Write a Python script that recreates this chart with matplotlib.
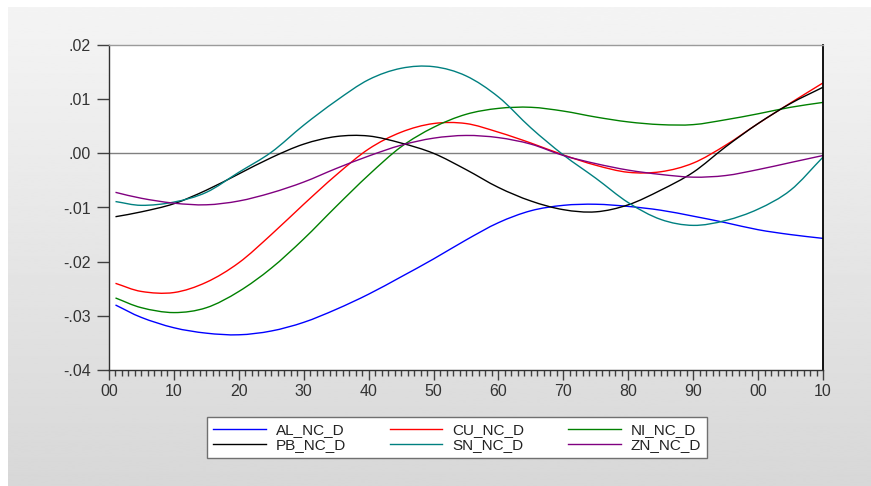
import numpy as np
import matplotlib
matplotlib.use("Agg")
import matplotlib.pyplot as plt
from matplotlib.ticker import MultipleLocator
from matplotlib.path import Path
from matplotlib.patches import PathPatch
from matplotlib.lines import Line2D

years = [1901, 1905, 1910, 1915, 1920, 1925, 1930, 1935, 1940, 1945, 1950, 1955,
         1960, 1965, 1970, 1975, 1980, 1985, 1990, 1995, 2000, 2005, 2010]

al_nc_d = [-0.028, -0.0303, -0.0322, -0.0332, -0.0335, -0.0328, -0.0312, -0.0288, -0.026,
           -0.0228, -0.0195, -0.016, -0.0128, -0.0106, -0.0096, -0.0094, -0.0098, -0.0105,
           -0.0116, -0.0128, -0.0141, -0.015, -0.0157]
cu_nc_d = [-0.024, -0.0255, -0.0257, -0.0238, -0.0202, -0.015, -0.0094, -0.004, 0.0008,
           0.0039, 0.0055, 0.0055, 0.0039, 0.0019, -0.0003, -0.0022, -0.0035, -0.0034,
           -0.0018, 0.0015, 0.0055, 0.0093, 0.013]
ni_nc_d = [-0.0267, -0.0285, -0.0294, -0.0285, -0.0255, -0.0212, -0.0158, -0.0098, -0.004,
           0.0012, 0.0048, 0.0072, 0.0083, 0.0085, 0.0078, 0.0067, 0.0058, 0.0053,
           0.0053, 0.0062, 0.0073, 0.0085, 0.0094]
pb_nc_d = [-0.0117, -0.0108, -0.0093, -0.0068, -0.0038, -0.0008, 0.0017, 0.0031, 0.0032,
           0.0019, 0.0, -0.003, -0.0063, -0.0088, -0.0104, -0.0108, -0.0095, -0.0068,
           -0.0035, 0.0012, 0.0055, 0.0092, 0.0122]
sn_nc_d = [-0.0089, -0.0096, -0.009, -0.0072, -0.0035, 0.0002, 0.0052, 0.0097, 0.0136,
           0.0157, 0.016, 0.0143, 0.0104, 0.0047, -0.0003, -0.0046, -0.0091, -0.0122,
           -0.0133, -0.0124, -0.0103, -0.0068, -0.0007]
zn_nc_d = [-0.0072, -0.0083, -0.0092, -0.0095, -0.0088, -0.0073, -0.0053, -0.0028, -0.0005,
           0.0015, 0.0028, 0.0033, 0.0029, 0.0017, -0.0004, -0.0019, -0.0031, -0.0039,
           -0.0044, -0.0041, -0.003, -0.0017, -0.0004]

series_names = ["AL_NC_D", "CU_NC_D", "NI_NC_D", "PB_NC_D", "SN_NC_D", "ZN_NC_D"]
series_values = [al_nc_d, cu_nc_d, ni_nc_d, pb_nc_d, sn_nc_d, zn_nc_d]
series_colors = ["#0000ff", "#ff0000", "#008000", "#000000", "#008080", "#800080"]

x_ticks = list(range(1900, 2011, 10))
x_tick_labels = ["00", "10", "20", "30", "40", "50", "60", "70", "80", "90", "00", "10"]
y_ticks = [-0.04, -0.03, -0.02, -0.01, 0.0, 0.01, 0.02]
y_tick_labels = ["-.04", "-.03", "-.02", "-.01", ".00", ".01", ".02"]

plt.rcParams['font.family'] = ['Liberation Sans', 'DejaVu Sans']


def smooth_path(xs, ys):
    """Catmull-Rom curve through the data points, as cubic Bezier path."""
    p = np.column_stack([xs, ys]).astype(float)
    ext = np.vstack([p[0] - (p[1] - p[0]), p, p[-1] + (p[-1] - p[-2])])
    verts = [tuple(p[0])]
    codes = [Path.MOVETO]
    for i in range(len(p) - 1):
        p0, p1, p2, p3 = ext[i], ext[i + 1], ext[i + 2], ext[i + 3]
        c1 = p1 + (p2 - p0) / 6.0
        c2 = p2 - (p3 - p1) / 6.0
        verts += [tuple(c1), tuple(c2), tuple(p2)]
        codes += [Path.CURVE4] * 3
    return Path(verts, codes)


W, H = 871, 486
fig = plt.figure(figsize=(W / 100, H / 100), dpi=100, facecolor="white")

bg = fig.add_axes([8 / W, 0, (870 - 8) / W, (486 - 7) / H], zorder=-10)
grad = np.linspace(0.957, 0.845, 256).reshape(-1, 1)
bg.imshow(grad, aspect="auto", cmap="gray", vmin=0, vmax=1, extent=[0, 1, 0, 1], origin="upper")
bg.set_axis_off()

ax = fig.add_axes([109 / W, 1 - 370 / H, (823 - 109) / W, (370 - 45) / H])
ax.set_facecolor("white")

ax.axhline(0, color="#808080", lw=1.0, zorder=1)

handles = {}
for name, vals, col in zip(series_names, series_values, series_colors):
    patch = PathPatch(smooth_path(years, vals), facecolor="none", edgecolor=col,
                      lw=1.0, zorder=2, capstyle="butt")
    ax.add_patch(patch)
    handles[name] = Line2D([], [], color=col, lw=1.0)

ax.set_xlim(1900, 2010)
ax.set_ylim(-0.04, 0.02)
ax.set_xticks(x_ticks)
ax.set_xticklabels(x_tick_labels)
ax.xaxis.set_minor_locator(MultipleLocator(1))
ax.set_yticks(y_ticks)
ax.set_yticklabels(y_tick_labels)

ax.tick_params(axis="x", which="major", direction="out", length=7, width=1,
               color="#404040", labelsize=11.5, labelcolor="#333333", pad=3)
ax.tick_params(axis="x", which="minor", direction="out", length=4, width=1, color="#404040")
ax.tick_params(axis="y", which="major", direction="out", length=9, width=1,
               color="#404040", labelsize=11.5, labelcolor="#333333", pad=4)

for s in ["left", "bottom"]:
    ax.spines[s].set_color("#303030")
    ax.spines[s].set_linewidth(1.0)
ax.spines["top"].set_color("#9a9a9a")
ax.spines["top"].set_linewidth(1.0)
ax.spines["right"].set_color("#000000")
ax.spines["right"].set_linewidth(1.3)

order = ["AL_NC_D", "PB_NC_D", "CU_NC_D", "SN_NC_D", "NI_NC_D", "ZN_NC_D"]
leg = fig.legend([handles[n] for n in order], order, loc="center",
                 bbox_to_anchor=(457 / W, 1 - 437.5 / H), ncol=3, frameon=True,
                 fancybox=False, edgecolor="#707070", facecolor="white", framealpha=1,
                 fontsize=11, handlelength=3.45, handletextpad=0.65, columnspacing=2.85,
                 labelspacing=0.05, borderpad=0.4, borderaxespad=0.0)
leg.get_frame().set_linewidth(1.0)
leg._legend_box.sep = 0
for t in leg.get_texts():
    t.set_color("#222222")

fig.savefig("out.png", dpi=100, facecolor=fig.get_facecolor())
